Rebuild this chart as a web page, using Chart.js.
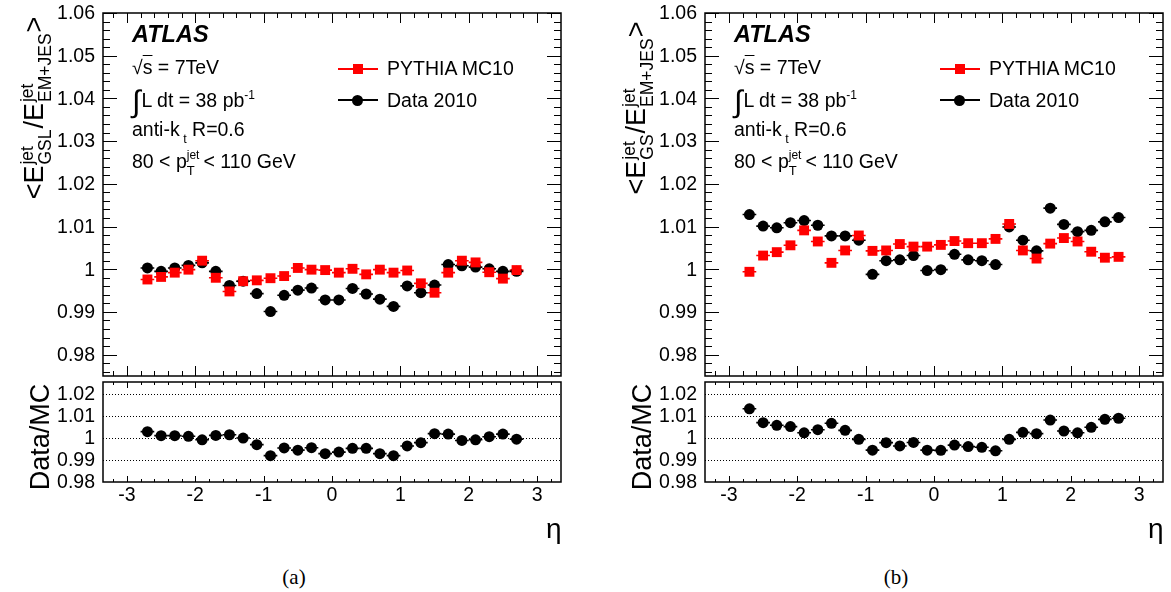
<!DOCTYPE html>
<html>
<head>
<meta charset="utf-8">
<script src="https://cdn.jsdelivr.net/npm/chart.js@4.4.1/dist/chart.umd.min.js"></script>
<style>
  body { margin: 0; background: #fff; }
  #wrap { position: relative; width: 1171px; height: 592px; overflow: hidden; background: #fff;
          font-family: "Liberation Sans", Arial, Helvetica, sans-serif; color: #000; }
  canvas { position: absolute; }
  .t { position: absolute; white-space: nowrap; line-height: 1; font-size: 19.5px; }
  .atlas { font-weight: bold; font-style: italic; font-size: 23.5px; }
  .ss { display: inline-flex; flex-direction: column; vertical-align: middle; line-height: 1; }
  .ss span { display: block; }
  .ytitle { position: absolute; white-space: nowrap; line-height: 1; font-size: 27px;
            transform: translate(-50%, -50%) rotate(-90deg); }
  .ytitle .ss { font-size: 17.5px; margin: 0 1px; }
  .lg-line { position: absolute; height: 2px; width: 40px; }
  .lg-mk { position: absolute; }
  .cap { position: absolute; font-family: "Liberation Serif", "DejaVu Serif", serif; font-size: 21px;
         transform: translate(-50%, -50%); }
</style>
</head>
<body>
<div id="wrap"></div>
<script>
// ── DATA ─────────────────────────────────
const eta = [-2.7, -2.5, -2.3, -2.1, -1.9, -1.7, -1.5, -1.3, -1.1, -0.9, -0.7, -0.5, -0.3, -0.1,
             0.1, 0.3, 0.5, 0.7, 0.9, 1.1, 1.3, 1.5, 1.7, 1.9, 2.1, 2.3, 2.5, 2.7];

// panel (a): GSL
const mcA = [0.9976, 0.9982, 0.9992, 0.9999, 1.0020, 0.9980, 0.9948, 0.9972, 0.9974, 0.9979,
             0.9984, 1.0003, 0.9999, 0.9998, 0.9992, 1.0001, 0.9988, 0.9999, 0.9992, 0.9997,
             0.9967, 0.9945, 0.9992, 1.0020, 1.0016, 0.9993, 0.9978, 0.9998];
const dataA = [1.0003, 0.9995, 1.0003, 1.0009, 1.0015, 0.9995, 0.9962, 0.9972, 0.9943, 0.9901,
               0.9939, 0.9951, 0.9956, 0.9928, 0.9928, 0.9955, 0.9942, 0.9930, 0.9913, 0.9961,
               0.9945, 0.9963, 1.0011, 1.0008, 1.0005, 1.0001, 0.9995, 0.9995];
const ratioA = [1.0029, 1.0011, 1.0011, 1.0008, 0.9992, 1.0012, 1.0015, 1.0000, 0.9970, 0.9920,
                0.9955, 0.9945, 0.9956, 0.9929, 0.9936, 0.9953, 0.9953, 0.9929, 0.9920, 0.9964,
                0.9979, 1.0020, 1.0018, 0.9989, 0.9992, 1.0006, 1.0018, 0.9995];
const errMcA = [0.0002, 0.0002, 0.0002, 0.0002, 0.0002, 0.0002, 0.0002, 0.0002, 0.0002, 0.0002,
                0.0002, 0.0002, 0.0002, 0.0002, 0.0002, 0.0002, 0.0002, 0.0002, 0.0002, 0.0002,
                0.0002, 0.0002, 0.0002, 0.0002, 0.0002, 0.0002, 0.0002, 0.0002];
const errDataA = [0.0003, 0.0003, 0.0003, 0.0003, 0.0003, 0.0003, 0.0003, 0.0003, 0.0003, 0.0003,
                  0.0003, 0.0003, 0.0003, 0.0003, 0.0003, 0.0003, 0.0003, 0.0003, 0.0003, 0.0003,
                  0.0003, 0.0003, 0.0003, 0.0003, 0.0003, 0.0003, 0.0003, 0.0003];

// panel (b): GS
const mcB = [0.9994, 1.0032, 1.0040, 1.0056, 1.0091, 1.0065, 1.0015, 1.0044, 1.0079, 1.0043,
             1.0044, 1.0059, 1.0053, 1.0053, 1.0057, 1.0066, 1.0061, 1.0061, 1.0071, 1.0106,
             1.0044, 1.0025, 1.0060, 1.0073, 1.0065, 1.0041, 1.0027, 1.0029];
const dataB = [1.0128, 1.0101, 1.0097, 1.0109, 1.0114, 1.0103, 1.0078, 1.0078, 1.0068, 0.9988,
               1.0020, 1.0022, 1.0032, 0.9997, 0.9999, 1.0035, 1.0022, 1.0020, 1.0011, 1.0099,
               1.0068, 1.0043, 1.0143, 1.0105, 1.0088, 1.0091, 1.0111, 1.0121];
const ratioB = [1.0133, 1.0070, 1.0058, 1.0052, 1.0024, 1.0038, 1.0067, 1.0035, 0.9994, 0.9945,
                0.9979, 0.9964, 0.9980, 0.9945, 0.9944, 0.9968, 0.9961, 0.9958, 0.9942, 0.9994,
                1.0026, 1.0020, 1.0082, 1.0032, 1.0024, 1.0049, 1.0085, 1.0090];
const errMcB = [0.0002, 0.0002, 0.0002, 0.0002, 0.0002, 0.0002, 0.0002, 0.0002, 0.0002, 0.0002,
                0.0002, 0.0002, 0.0002, 0.0002, 0.0002, 0.0002, 0.0002, 0.0002, 0.0002, 0.0002,
                0.0002, 0.0002, 0.0002, 0.0002, 0.0002, 0.0002, 0.0002, 0.0002];
const errDataB = [0.0003, 0.0003, 0.0003, 0.0004, 0.0005, 0.0008, 0.0008, 0.0007, 0.0004, 0.0003,
                  0.0003, 0.0003, 0.0003, 0.0003, 0.0003, 0.0003, 0.0003, 0.0003, 0.0003, 0.0004,
                  0.0005, 0.0005, 0.0008, 0.0005, 0.0004, 0.0004, 0.0004, 0.0003];
const errRatio = [0.0003, 0.0003, 0.0003, 0.0003, 0.0003, 0.0003, 0.0003, 0.0003, 0.0003, 0.0003,
                  0.0003, 0.0003, 0.0003, 0.0003, 0.0003, 0.0003, 0.0003, 0.0003, 0.0003, 0.0003,
                  0.0003, 0.0003, 0.0003, 0.0003, 0.0003, 0.0003, 0.0003, 0.0003];

const etaTicks = [-3, -2, -1, 0, 1, 2, 3];
const mainTicks = [0.98, 0.99, 1, 1.01, 1.02, 1.03, 1.04, 1.05, 1.06];
const ratioTicks = [0.98, 0.99, 1, 1.01, 1.02];
const ratioGrid = [0.99, 1, 1.01, 1.02];
const seriesNames = ['PYTHIA MC10', 'Data 2010'];

const MC_COLOR = '#ff0000';
const DATA_COLOR = '#000000';
const FONT = '"Liberation Sans", Arial, Helvetica, sans-serif';

const fmt = v => String(+Number(v).toFixed(2));

// ── ROOT-LIKE FRAME / TICKS / LABELS / ERROR BARS ──
const rootFrame = {
  id: 'rootFrame',
  beforeDatasetsDraw(chart, args, o) {
    const { ctx, chartArea: a, scales: { x, y } } = chart;
    ctx.save();
    ctx.strokeStyle = '#000';
    ctx.lineWidth = 1;
    ctx.setLineDash([1, 2]);
    (o.grid || []).forEach(v => {
      const py = Math.round(y.getPixelForValue(v)) + 0.5;
      ctx.beginPath(); ctx.moveTo(a.left, py); ctx.lineTo(a.right, py); ctx.stroke();
    });
    ctx.setLineDash([]);
    chart.data.datasets.forEach(ds => {
      const errs = ds.errors || [];
      ctx.strokeStyle = ds.backgroundColor;
      ctx.lineWidth = 1.6;
      ds.data.forEach((p, j) => {
        const px = x.getPixelForValue(p.x), py = y.getPixelForValue(p.y);
        const e = errs[j] || 0;
        ctx.beginPath();
        ctx.moveTo(x.getPixelForValue(p.x - o.halfBin), py);
        ctx.lineTo(x.getPixelForValue(p.x + o.halfBin), py);
        ctx.moveTo(px, y.getPixelForValue(p.y - e));
        ctx.lineTo(px, y.getPixelForValue(p.y + e));
        ctx.stroke();
      });
    });
    ctx.restore();
  },
  afterDraw(chart, args, o) {
    const { ctx, chartArea: a, scales: { x, y } } = chart;
    ctx.save();
    ctx.strokeStyle = '#000';
    ctx.lineWidth = 1;
    ctx.beginPath();
    // x ticks, bottom (up) and top (down)
    const xStep = o.xMinorStep;
    for (let k = Math.ceil(x.min / xStep - 1e-6); k * xStep <= x.max + 1e-9; k++) {
      const v = k * xStep;
      const major = Math.abs(v - Math.round(v)) < 1e-6;
      const len = major ? o.xLen[0] : o.xLen[1];
      const px = Math.round(x.getPixelForValue(v)) + 0.5;
      ctx.moveTo(px, a.bottom); ctx.lineTo(px, a.bottom - len);
      ctx.moveTo(px, a.top); ctx.lineTo(px, a.top + len);
    }
    // y ticks, left and right
    if (o.yLen) {
      const yStep = o.yMinorStep;
      for (let k = Math.ceil(y.min / yStep - 1e-6); k * yStep <= y.max + 1e-9; k++) {
        const v = k * yStep;
        const major = o.yLabels.some(t => Math.abs(t - v) < 1e-7);
        const len = major ? o.yLen[0] : o.yLen[1];
        const py = Math.round(y.getPixelForValue(v)) + 0.5;
        ctx.moveTo(a.left, py); ctx.lineTo(a.left + len, py);
        ctx.moveTo(a.right, py); ctx.lineTo(a.right - len, py);
      }
    }
    ctx.stroke();
    ctx.lineWidth = 1.5;
    ctx.strokeRect(a.left, a.top, a.right - a.left, a.bottom - a.top);

    // tick labels
    ctx.fillStyle = '#000';
    ctx.font = `19.5px ${FONT}`;
    ctx.textAlign = 'right';
    ctx.textBaseline = 'middle';
    (o.yLabels || []).forEach(v => ctx.fillText(fmt(v), a.left - 8, y.getPixelForValue(v) + 1));
    ctx.textAlign = 'center';
    (o.xLabels || []).forEach(v => ctx.fillText(fmt(v), x.getPixelForValue(v), a.bottom + 14));
    ctx.restore();
  }
};

function points(vals) {
  return eta.map((e, i) => ({ x: e, y: vals[i] }));
}

function dataset(label, vals, errs, color, style, radius) {
  return {
    label, data: points(vals), errors: errs,
    backgroundColor: color, borderColor: color, borderWidth: 0,
    pointStyle: style, pointRadius: radius, pointBorderWidth: 0, showLine: false
  };
}

function makeCanvas(left, top, w, h) {
  const c = document.createElement('canvas');
  c.width = w; c.height = h;
  c.style.left = left + 'px'; c.style.top = top + 'px';
  c.style.width = w + 'px'; c.style.height = h + 'px';
  document.getElementById('wrap').appendChild(c);
  return c;
}

function baseOptions(padding, frame, yMin, yMax) {
  return {
    responsive: false, animation: false, events: [],
    layout: { padding },
    plugins: { legend: { display: false }, tooltip: { enabled: false }, rootFrame: frame },
    scales: {
      x: { type: 'linear', display: false, min: -3.35, max: 3.35 },
      y: { type: 'linear', display: false, min: yMin, max: yMax }
    }
  };
}

function mainChart(px, mc, data, errMc, errData) {
  const c = makeCanvas(px, 0, 569, 383);
  return new Chart(c, {
    type: 'scatter',
    data: { datasets: [
      dataset(seriesNames[0], mc, errMc, MC_COLOR, 'rect', 7),
      dataset(seriesNames[1], data, errData, DATA_COLOR, 'circle', 5.5)
    ] },
    options: baseOptions(
      { top: 13, right: 8, bottom: 1, left: 103 },
      { halfBin: 0.1, xMinorStep: 0.2, xLen: [10, 5], yMinorStep: 0.002, yLen: [14, 7], yLabels: mainTicks },
      0.975, 1.06),
    plugins: [rootFrame]
  });
}

function ratioChart(px, ratio) {
  const c = makeCanvas(px, 370, 569, 150);
  return new Chart(c, {
    type: 'scatter',
    data: { datasets: [dataset('Data/MC', ratio, errRatio, DATA_COLOR, 'circle', 5.5)] },
    options: baseOptions(
      { top: 12, right: 8, bottom: 38, left: 103 },
      { halfBin: 0.1, xMinorStep: 0.2, xLen: [6, 3], grid: ratioGrid, yLabels: ratioTicks, xLabels: etaTicks },
      0.98, 1.0255),
    plugins: [rootFrame]
  });
}

// ── TEXT OVERLAYS ────────────────────────
function addHTML(html) {
  document.getElementById('wrap').insertAdjacentHTML('beforeend', html);
}

function annotate(px, gsName, letter) {
  const L = px + 132;
  addHTML(`
    <div class="ytitle" style="left:${px + 36}px; top:108px;">&lt;E<span class="ss"><span>jet</span><span>${gsName}</span></span>/E<span class="ss"><span>jet</span><span>EM+JES</span></span>&gt;</div>
    <div class="ytitle" style="left:${px + 40}px; top:437px;">Data/MC</div>
    <div class="t atlas" style="left:${L}px; top:23px;">ATLAS</div>
    <div class="t" style="left:${L}px; top:58px;">√<span style="text-decoration:overline;">s</span> = 7TeV</div>
    <div class="t" style="left:${L}px; top:86px;"><span style="font-size:31px; vertical-align:-5px; margin-right:1px;">∫</span>L dt = 38 pb<sup style="font-size:12px; vertical-align:8px;">-1</sup></div>
    <div class="t" style="left:${L}px; top:120px;">anti-k<sub style="font-size:12.5px; vertical-align:-7px;">&nbsp;t</sub> R=0.6</div>
    <div class="t" style="left:${L}px; top:149px;">80 &lt; p<span class="ss" style="font-size:12px; margin-right:4px;"><span>jet</span><span style="font-size:13px; margin-top:3px;">T</span></span>&lt; 110 GeV</div>
    <div class="lg-line" style="left:${px + 338}px; top:68px; background:${MC_COLOR};"></div>
    <div class="lg-mk" style="left:${px + 353}px; top:64px; width:10px; height:10px; background:${MC_COLOR};"></div>
    <div class="t" style="left:${px + 387}px; top:59px;">${seriesNames[0]}</div>
    <div class="lg-line" style="left:${px + 338}px; top:99px; background:${DATA_COLOR};"></div>
    <div class="lg-mk" style="left:${px + 352}px; top:95px; width:11px; height:11px; border-radius:50%; background:${DATA_COLOR};"></div>
    <div class="t" style="left:${px + 387}px; top:91px;">${seriesNames[1]}</div>
    <div class="t" style="left:${px + 546}px; top:515px; font-size:28px;">η</div>
    <div class="cap" style="left:${px + 294}px; top:577px;">${letter}</div>
  `);
}

const PANELS = [
  { px: 0, gs: 'GSL', letter: '(a)', mc: mcA, data: dataA, errMc: errMcA, errData: errDataA, ratio: ratioA },
  { px: 602, gs: 'GS', letter: '(b)', mc: mcB, data: dataB, errMc: errMcB, errData: errDataB, ratio: ratioB }
];

PANELS.forEach(p => {
  mainChart(p.px, p.mc, p.data, p.errMc, p.errData);
  ratioChart(p.px, p.ratio);
  annotate(p.px, p.gs, p.letter);
});
</script>
</body>
</html>
